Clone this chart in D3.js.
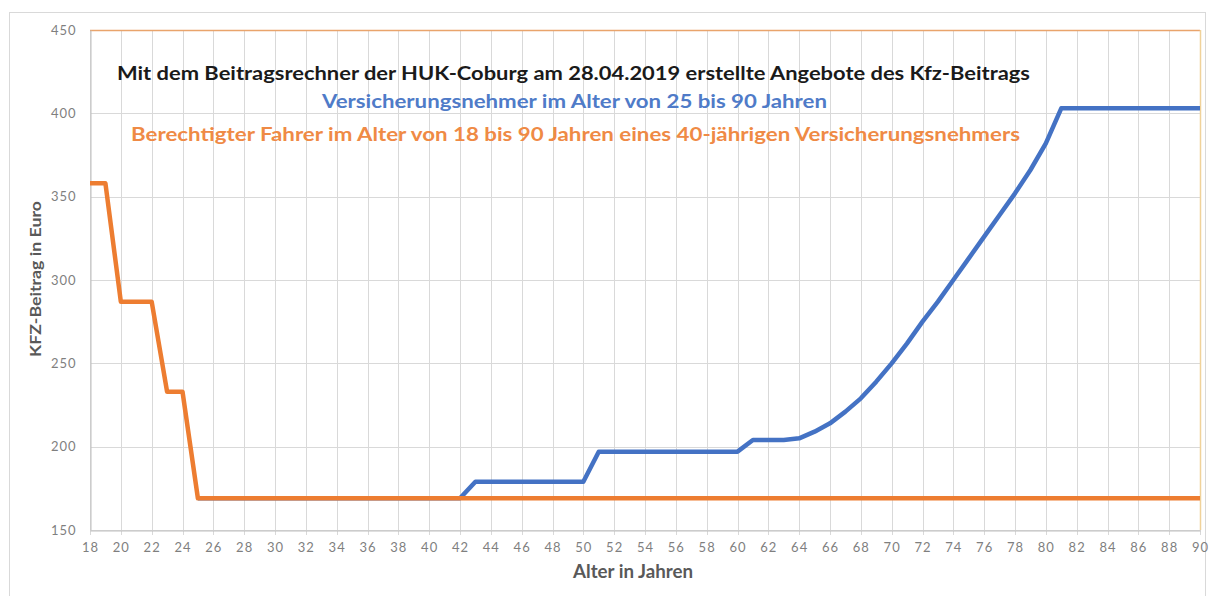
<!DOCTYPE html>
<html><head><meta charset="utf-8">
<script src="https://cdn.jsdelivr.net/npm/d3@7"></script>
<style>
html,body{margin:0;padding:0;background:#fff;}
svg{display:block;font-family:Lato,"Open Sans",sans-serif;}
</style></head>
<body>
<svg id="chart" width="1210" height="596"></svg>
<script>
// ---- data ----
const driverAges = d3.range(18, 91);
const driverValues = [358,358,287,287,287,233,233,169].concat(d3.range(26,91).map(()=>169));
const holderAges = d3.range(25, 91);
const holderValues = [
  169,169,169,169,169,169,169,169,169,169,169,169,169,169,169,169,169,169, // 25-42
  179,179,179,179,179,179,179,179,   // 43-50
  197,197,197,197,197,197,197,197,197,197, // 51-60
  204,204,204,205,   // 61-64
  209,214,221,229,239,250,262,275,287,300,313,326,339,352,366,382, // 65-80
  403,403,403,403,403,403,403,403,403,403 // 81-90
];
const yTicks = [150,200,250,300,350,400,450];
const xTicks = d3.range(18, 91, 2);
const titleText = "Mit dem Beitragsrechner der HUK-Coburg am 28.04.2019 erstellte Angebote des Kfz-Beitrags";
const holderLabel = "Versicherungsnehmer im Alter von 25 bis 90 Jahren";
const driverLabel = "Berechtigter Fahrer im Alter von 18 bis 90 Jahren eines 40-jährigen Versicherungsnehmers";
const xTitle = "Alter in Jahren";
const yTitle = "KFZ-Beitrag in Euro";

// ---- layout ----
const svg = d3.select("#chart");
const L = 90, R = 1200, T = 30, B = 530;
const x = d3.scaleLinear().domain([18, 90]).range([L, R]);
const y = d3.scaleLinear().domain([150, 450]).range([B, T]);

// outer border
svg.append("rect").attr("x", 9.5).attr("y", 12.5).attr("width", 1196).attr("height", 600)
  .attr("fill", "none").attr("stroke", "#d9d9d9").attr("stroke-width", 1);

// gridlines
svg.append("g").selectAll("line").data(yTicks).join("line")
  .attr("x1", L).attr("x2", R).attr("y1", d => Math.round(y(d)) + 0.5).attr("y2", d => Math.round(y(d)) + 0.5)
  .attr("stroke", "#d9d9d9").attr("stroke-width", 1);
svg.append("g").selectAll("line").data(xTicks).join("line")
  .attr("x1", d => Math.round(x(d)) + 0.5).attr("x2", d => Math.round(x(d)) + 0.5)
  .attr("y1", T).attr("y2", B + 5)
  .attr("stroke", "#d9d9d9").attr("stroke-width", 1);

// plot border top/right
svg.append("line").attr("x1", L).attr("x2", R).attr("y1", T + 0.5).attr("y2", T + 0.5)
  .attr("stroke", "#e9a46c").attr("stroke-width", 1.5);
svg.append("line").attr("x1", R + 0.5).attr("x2", R + 0.5).attr("y1", T).attr("y2", B)
  .attr("stroke", "#f0d29a").attr("stroke-width", 1.5);

// axes
const xAxis = d3.axisBottom(x).tickValues(xTicks).tickSize(0).tickPadding(12).tickFormat(d3.format("d"));
const gx = svg.append("g").attr("transform", `translate(0,${B + 0.5})`).call(xAxis);
gx.select(".domain").attr("stroke", "#bfbfbf");
gx.selectAll("text").attr("fill", "#7f7f7f").attr("font-size", 13).attr("letter-spacing", 1)
  .attr("font-family", "Lato,sans-serif");

const yAxis = d3.axisLeft(y).tickValues(yTicks).tickSize(0).tickPadding(14);
const gy = svg.append("g").attr("transform", `translate(${L + 0.5},0)`).call(yAxis);
gy.select(".domain").attr("stroke", "#bfbfbf");
gy.selectAll("text").attr("fill", "#7f7f7f").attr("font-size", 13).attr("letter-spacing", 1)
  .attr("font-family", "Lato,sans-serif");

// lines
const line = d3.line().x(d => x(d[0])).y(d => y(d[1]));
svg.append("path").datum(holderAges.map((a, i) => [a, holderValues[i]]))
  .attr("d", line).attr("fill", "none").attr("stroke", "#4472c4")
  .attr("stroke-width", 4.5).attr("stroke-linejoin", "round");
svg.append("path").datum(driverAges.map((a, i) => [a, driverValues[i]]))
  .attr("d", line).attr("fill", "none").attr("stroke", "#ed7d31")
  .attr("stroke-width", 4.5).attr("stroke-linejoin", "round");

// texts
svg.append("text").attr("x", 117).attr("y", 80).text(titleText)
  .attr("font-size", 19).attr("font-weight", 700).attr("fill", "#1a1a1a")
  .attr("textLength", 913).attr("lengthAdjust", "spacingAndGlyphs");
svg.append("text").attr("x", 322).attr("y", 108).text(holderLabel)
  .attr("font-size", 18).attr("font-weight", 700).attr("fill", "#4f7bc8")
  .attr("textLength", 505).attr("lengthAdjust", "spacingAndGlyphs");
svg.append("text").attr("x", 131).attr("y", 141).text(driverLabel)
  .attr("font-size", 18).attr("font-weight", 700).attr("fill", "#ef8a45")
  .attr("textLength", 889).attr("lengthAdjust", "spacingAndGlyphs");

svg.append("text").attr("x", 633).attr("y", 578).attr("text-anchor", "middle").text(xTitle)
  .attr("font-size", 18).attr("font-weight", 700).attr("fill", "#595959")
  .attr("textLength", 120).attr("lengthAdjust", "spacingAndGlyphs");
svg.append("text").attr("transform", "translate(41,279) rotate(-90)").attr("text-anchor", "middle").text(yTitle)
  .attr("font-size", 16).attr("font-weight", 700).attr("fill", "#595959")
  .attr("textLength", 156).attr("lengthAdjust", "spacingAndGlyphs");
</script>
</body></html>
